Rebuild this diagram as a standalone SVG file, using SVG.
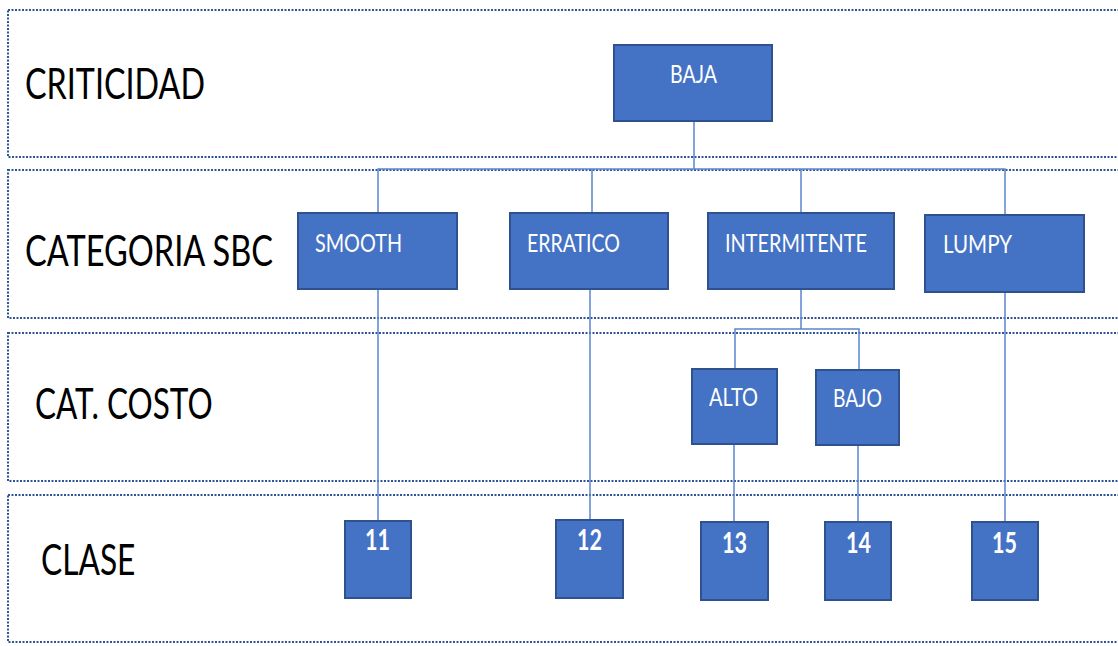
<svg xmlns="http://www.w3.org/2000/svg" width="1118" height="646" viewBox="0 0 1118 646">
  <style>
    .band { fill: none; stroke: #2F5597; stroke-width: 2; stroke-dasharray: 2 1.5; }
    .row { font-family: Lato, "Open Sans", sans-serif; font-size: 43px; fill: #000; }
    .box { fill: #4472C4; stroke: #2F528F; stroke-width: 2; }
    .lbl { font-family: Lato, "Open Sans", sans-serif; font-size: 25px; fill: #FFFFFF; }
    .num { font-family: Lato, "Open Sans", sans-serif; font-size: 28px; font-weight: bold; fill: #FFFFFF; }
    .wire { fill: none; stroke: #5B85D0; stroke-width: 1.5; }
  </style>

  <rect width="1118" height="646" fill="#FFFFFF"/>

  <!-- level bands -->
  <g id="bands">
    <rect class="band" x="8" y="10" width="1130" height="147"/>
    <rect class="band" x="8" y="170" width="1130" height="148"/>
    <rect class="band" x="8" y="333" width="1130" height="148"/>
    <rect class="band" x="8" y="495" width="1130" height="147"/>
  </g>

  <!-- level names (horizontally condensed) -->
  <g id="levels">
    <text class="row" transform="translate(25 99) scale(0.8 1)" x="0" y="0" textLength="225" lengthAdjust="spacingAndGlyphs">CRITICIDAD</text>
    <text class="row" transform="translate(25 266) scale(0.8 1)" x="0" y="0" textLength="310" lengthAdjust="spacingAndGlyphs">CATEGORIA SBC</text>
    <text class="row" transform="translate(35 419) scale(0.8 1)" x="0" y="0" textLength="222" lengthAdjust="spacingAndGlyphs">CAT. COSTO</text>
    <text class="row" transform="translate(41 575) scale(0.8 1)" x="0" y="0" textLength="118" lengthAdjust="spacingAndGlyphs">CLASE</text>
  </g>

  <!-- connectors -->
  <g id="connectors">
    <path class="wire" d="M694 121 V169 M378 213 V169 H1005 V215 M592 169 V213 M801 169 V213"/>
    <path class="wire" d="M378 289 V521"/>
    <path class="wire" d="M590 289 V520"/>
    <path class="wire" d="M801 289 V329 M735 369 V329 H859 V370"/>
    <path class="wire" d="M734 444 V522"/>
    <path class="wire" d="M858 445 V522"/>
    <path class="wire" d="M1005 292 V522"/>
  </g>

  <g id="node-baja">
    <rect class="box" x="614" y="45" width="158" height="76"/>
    <text class="lbl" x="670" y="83" textLength="47" lengthAdjust="spacingAndGlyphs">BAJA</text>
  </g>
  <g id="node-smooth">
    <rect class="box" x="298" y="213" width="159" height="76"/>
    <text class="lbl" x="315" y="252" textLength="87" lengthAdjust="spacingAndGlyphs">SMOOTH</text>
  </g>
  <g id="node-erratico">
    <rect class="box" x="510" y="213" width="158" height="76"/>
    <text class="lbl" x="527" y="252" textLength="93" lengthAdjust="spacingAndGlyphs">ERRATICO</text>
  </g>
  <g id="node-intermitente">
    <rect class="box" x="708" y="213" width="186" height="76"/>
    <text class="lbl" x="725" y="252" textLength="142" lengthAdjust="spacingAndGlyphs">INTERMITENTE</text>
  </g>
  <g id="node-lumpy">
    <rect class="box" x="925" y="215" width="159" height="77"/>
    <text class="lbl" x="943" y="253" textLength="69" lengthAdjust="spacingAndGlyphs">LUMPY</text>
  </g>
  <g id="node-alto">
    <rect class="box" x="692" y="369" width="85" height="75"/>
    <text class="lbl" x="709" y="406" textLength="49" lengthAdjust="spacingAndGlyphs">ALTO</text>
  </g>
  <g id="node-bajo">
    <rect class="box" x="816" y="370" width="83" height="75"/>
    <text class="lbl" x="833" y="407" textLength="49" lengthAdjust="spacingAndGlyphs">BAJO</text>
  </g>
  <g id="node-11">
    <rect class="box" x="345" y="521" width="66" height="77"/>
    <text class="num" x="365" y="550" textLength="25" lengthAdjust="spacingAndGlyphs">11</text>
  </g>
  <g id="node-12">
    <rect class="box" x="556" y="520" width="67" height="78"/>
    <text class="num" x="577" y="550" textLength="25" lengthAdjust="spacingAndGlyphs">12</text>
  </g>
  <g id="node-13">
    <rect class="box" x="701" y="522" width="67" height="78"/>
    <text class="num" x="722" y="553" textLength="25" lengthAdjust="spacingAndGlyphs">13</text>
  </g>
  <g id="node-14">
    <rect class="box" x="825" y="522" width="66" height="78"/>
    <text class="num" x="846" y="553" textLength="25" lengthAdjust="spacingAndGlyphs">14</text>
  </g>
  <g id="node-15">
    <rect class="box" x="972" y="522" width="66" height="78"/>
    <text class="num" x="992" y="553" textLength="25" lengthAdjust="spacingAndGlyphs">15</text>
  </g>
</svg>
